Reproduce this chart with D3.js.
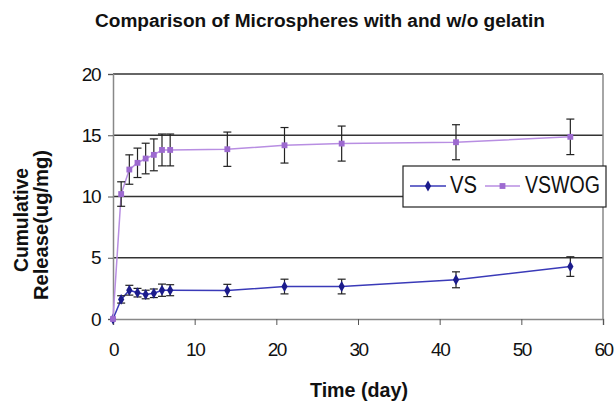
<!DOCTYPE html>
<html><head><meta charset="utf-8">
<script src="https://cdn.jsdelivr.net/npm/d3@7"></script>
<style>body{margin:0;background:#fff;}svg{display:block;font-family:Arial,"Liberation Sans",sans-serif;}</style>
</head><body>
<svg id="c" width="616" height="404"></svg>
<script>
const days = [0,1,2,3,4,5,6,7,14,21,28,42,56];
const vsValues = [0,1.6,2.35,2.15,2.0,2.1,2.35,2.35,2.33,2.65,2.65,3.2,4.28];
const vsErrors = [0,0.3,0.4,0.35,0.35,0.35,0.5,0.45,0.5,0.6,0.6,0.65,0.8];
const vswogValues = [0,10.2,12.2,12.75,13.1,13.4,13.8,13.8,13.86,14.18,14.32,14.43,14.87];
const vswogErrors = [0,1.0,1.2,1.2,1.25,1.3,1.3,1.3,1.4,1.45,1.43,1.43,1.45];
const xTicks = [0,10,20,30,40,50,60];
const yTicks = [0,5,10,15,20];
const seriesNames = ["VS","VSWOG"];

const svg = d3.select("#c");
const x = d3.scaleLinear().domain([0,60]).range([113,603]);
const y = d3.scaleLinear().domain([0,20]).range([319,74]);

// gridlines
svg.append("g").selectAll("line").data(yTicks.filter(d=>d>0)).join("line")
  .attr("x1",x(0)).attr("x2",x(60)).attr("y1",d=>y(d)).attr("y2",d=>y(d))
  .attr("stroke","#333").attr("stroke-width",1.5);
// right border
svg.append("line").attr("x1",x(60)).attr("x2",x(60)).attr("y1",y(20)).attr("y2",y(0))
  .attr("stroke","#888").attr("stroke-width",1.5);

// axes
const yAxis = svg.append("g").attr("transform",`translate(${x(0)},0)`)
  .call(d3.axisLeft(y).tickValues(yTicks).tickSize(5).tickPadding(8));
const xAxis = svg.append("g").attr("transform",`translate(0,${y(0)})`)
  .call(d3.axisBottom(x).tickValues(xTicks).tickSize(6).tickPadding(18));
[yAxis,xAxis].forEach(a=>{
  a.select(".domain").attr("stroke","#888").attr("stroke-width",1.5);
  a.selectAll(".tick line").attr("stroke","#555").attr("stroke-width",1);
  a.selectAll(".tick text").attr("font-size",19).attr("fill","#111")
    .attr("font-family","Arial, 'Liberation Sans', sans-serif").attr("letter-spacing",-1.5);
});

const series = [
  {name:seriesNames[0], vals:vsValues, errs:vsErrors, line:"#3a3ab8", mark:"#1c1c8c", shape:d3.symbolDiamond, size:34},
  {name:seriesNames[1], vals:vswogValues, errs:vswogErrors, line:"#b88ee2", mark:"#9d6ad0", shape:d3.symbolSquare, size:34}
];

series.forEach(s=>{
  const pts = days.map((d,i)=>({d, v:s.vals[i], e:s.errs[i]}));
  const g = svg.append("g");
  g.append("path").datum(pts)
    .attr("d", d3.line().x(p=>x(p.d)).y(p=>y(p.v)))
    .attr("fill","none").attr("stroke",s.line).attr("stroke-width",1.5);
  const eb = g.selectAll(".eb").data(pts.filter(p=>p.e>0)).join("g");
  eb.append("line").attr("x1",p=>x(p.d)).attr("x2",p=>x(p.d))
    .attr("y1",p=>y(p.v+p.e)).attr("y2",p=>y(p.v-p.e)).attr("stroke","#222").attr("stroke-width",1.2);
  eb.append("line").attr("x1",p=>x(p.d)-4).attr("x2",p=>x(p.d)+4)
    .attr("y1",p=>y(p.v+p.e)).attr("y2",p=>y(p.v+p.e)).attr("stroke","#222").attr("stroke-width",1.2);
  eb.append("line").attr("x1",p=>x(p.d)-4).attr("x2",p=>x(p.d)+4)
    .attr("y1",p=>y(p.v-p.e)).attr("y2",p=>y(p.v-p.e)).attr("stroke","#222").attr("stroke-width",1.2);
  g.selectAll(".m").data(pts).join("path")
    .attr("transform",p=>`translate(${x(p.d)},${y(p.v)})`)
    .attr("d", d3.symbol().type(s.shape).size(s.size)).attr("fill",s.mark);
});

// title
svg.append("text").attr("x",95).attr("y",27).attr("font-size",18).attr("font-weight","bold")
  .attr("textLength",450).attr("lengthAdjust","spacingAndGlyphs").attr("fill","#111")
  .text("Comparison of Microspheres with and w/o gelatin");
// x title
svg.append("text").attr("x",310).attr("y",397).attr("font-size",20).attr("font-weight","bold")
  .attr("textLength",98).attr("lengthAdjust","spacingAndGlyphs").attr("fill","#111")
  .text("Time (day)");
// y title
svg.append("text").attr("transform","translate(28,272) rotate(-90)").attr("font-size",20).attr("font-weight","bold")
  .attr("textLength",104).attr("lengthAdjust","spacingAndGlyphs").attr("fill","#111").text("Cumulative");
svg.append("text").attr("transform","translate(48,300) rotate(-90)").attr("font-size",20).attr("font-weight","bold")
  .attr("textLength",150).attr("lengthAdjust","spacingAndGlyphs").attr("fill","#111").text("Release(ug/mg)");

// legend
const lg = svg.append("g");
lg.append("rect").attr("x",403).attr("y",166).attr("width",203).attr("height",41)
  .attr("fill","#fff").attr("stroke","#222").attr("stroke-width",1.2);
const legItems = [
  {s:series[0], x0:410, x1:446, tx:450, tw:27},
  {s:series[1], x0:485, x1:520, tx:525, tw:75}
];
legItems.forEach(it=>{
  lg.append("line").attr("x1",it.x0).attr("x2",it.x1).attr("y1",186).attr("y2",186)
    .attr("stroke",it.s.line).attr("stroke-width",1.5);
  lg.append("path").attr("transform",`translate(${(it.x0+it.x1)/2},186)`)
    .attr("d",d3.symbol().type(it.s.shape).size(it.s.size)).attr("fill",it.s.mark);
  lg.append("text").attr("x",it.tx).attr("y",193).attr("font-size",23).attr("fill","#111")
    .attr("textLength",it.tw).attr("lengthAdjust","spacingAndGlyphs").text(it.s.name);
});
</script>
</body></html>
